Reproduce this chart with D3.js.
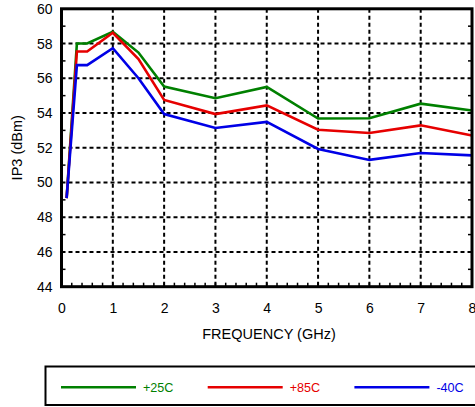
<!DOCTYPE html>
<html>
<head>
<meta charset="utf-8">
<script src="https://cdn.jsdelivr.net/npm/d3@7"></script>
<style>
  body { margin: 0; background: #fff; }
  text { font-family: "Liberation Sans", Arial, sans-serif; }
</style>
</head>
<body>
<div id="chart"></div>
<script>
// frequency points (GHz) and IP3 values (dBm)
const freq = [0.1, 0.3, 0.5, 1, 1.5, 2, 3, 4, 5, 6, 7, 8];
const ip3_25 = [49.1, 58.0, 58.0, 58.68, 57.48, 55.52, 54.85, 55.5, 53.68, 53.7, 54.54, 54.14];
const ip3_85 = [49.1, 57.54, 57.54, 58.62, 57.1, 54.75, 53.94, 54.44, 53.04, 52.85, 53.29, 52.7];
const ip3_m40 = [49.1, 56.76, 56.76, 57.73, 56.0, 53.94, 53.14, 53.49, 51.93, 51.3, 51.7, 51.56];
const seriesNames = ["+25C", "+85C", "-40C"];
const seriesColors = ["#008000", "#e60000", "#0000e6"];
const xTicks = [0, 1, 2, 3, 4, 5, 6, 7, 8];
const yTicks = [44, 46, 48, 50, 52, 54, 56, 58, 60];

const width = 475;
const height = 407;
const margin = { top: 8.8, right: 3, bottom: 120.3, left: 61.5 };

const svg = d3.select('#chart')
  .append('svg')
  .attr('width', width)
  .attr('height', height);

const x = d3.scaleLinear()
  .domain([0, 8])
  .range([margin.left, width - margin.right]);

const y = d3.scaleLinear()
  .domain([44, 60])
  .range([height - margin.bottom, margin.top]);

// dashed grid
svg.append("g")
  .selectAll("line")
  .data(xTicks.slice(1, -1))
  .join("line")
    .attr("x1", d => x(d)).attr("x2", d => x(d))
    .attr("y1", y(60)).attr("y2", y(44))
    .attr("stroke", "#000")
    .attr("stroke-width", 2)
    .attr("stroke-dasharray", "4,3");

svg.append("g")
  .selectAll("line")
  .data(yTicks.slice(1, -1))
  .join("line")
    .attr("x1", x(0)).attr("x2", x(8))
    .attr("y1", d => y(d)).attr("y2", d => y(d))
    .attr("stroke", "#000")
    .attr("stroke-width", 2)
    .attr("stroke-dasharray", "4,3");

// minor ticks, pointing inward
const minorX = d3.range(0.2, 8, 0.2);
const minorY = d3.range(45, 60, 2);

svg.append("g")
  .selectAll("line")
  .data(minorX)
  .join("line")
    .attr("x1", d => x(d)).attr("x2", d => x(d))
    .attr("y1", y(44)).attr("y2", y(44) - 4)
    .attr("stroke", "#000").attr("stroke-width", 1.5);

svg.append("g")
  .selectAll("line")
  .data(minorY)
  .join("line")
    .attr("x1", x(0)).attr("x2", x(0) + 4)
    .attr("y1", d => y(d)).attr("y2", d => y(d))
    .attr("stroke", "#000").attr("stroke-width", 1.5);

svg.append("g")
  .selectAll("line")
  .data(minorY)
  .join("line")
    .attr("x1", x(8)).attr("x2", x(8) - 4)
    .attr("y1", d => y(d)).attr("y2", d => y(d))
    .attr("stroke", "#000").attr("stroke-width", 1.5);

// series lines
const series = [ip3_25, ip3_85, ip3_m40];
const line = d3.line()
  .x((d, i) => x(freq[i]))
  .y(d => y(d));

svg.append("g")
  .selectAll("path")
  .data(series)
  .join("path")
    .attr("d", d => line(d))
    .attr("fill", "none")
    .attr("stroke", (d, i) => seriesColors[i])
    .attr("stroke-width", 2.6)
    .attr("stroke-linejoin", "miter");

// frame
svg.append("rect")
  .attr("x", x(0)).attr("y", y(60))
  .attr("width", x(8) - x(0)).attr("height", y(44) - y(60))
  .attr("fill", "none")
  .attr("stroke", "#000")
  .attr("stroke-width", 3);

// axes (labels only, frame drawn above)
function xAxis(g) {
  g.attr("transform", `translate(0,${y(44)})`)
    .call(d3.axisBottom(x).tickValues(xTicks).tickSize(0).tickPadding(16))
    .attr("font-size", "14px")
    .attr("font-family", "Liberation Sans, Arial, sans-serif")
    .call(g => g.select(".domain").remove());
}

function yAxis(g) {
  g.attr("transform", `translate(${x(0)},0)`)
    .call(d3.axisLeft(y).tickValues(yTicks).tickSize(0).tickPadding(9))
    .attr("font-size", "14px")
    .attr("font-family", "Liberation Sans, Arial, sans-serif")
    .call(g => g.select(".domain").remove());
}

svg.append("g").call(xAxis);
svg.append("g").call(yAxis);

svg.append("text")
  .attr("x", 269).attr("y", 338.5)
  .attr("text-anchor", "middle")
  .attr("font-size", "14.5px")
  .text("FREQUENCY (GHz)");

svg.append("text")
  .attr("transform", `translate(22,${(y(44) + y(60)) / 2}) rotate(-90)`)
  .attr("text-anchor", "middle")
  .attr("font-size", "14.5px")
  .text("IP3 (dBm)");

// legend
const legend = svg.append("g");
legend.append("rect")
  .attr("x", 45.5).attr("y", 366.5)
  .attr("width", 440).attr("height", 38.5)
  .attr("fill", "none")
  .attr("stroke", "#000")
  .attr("stroke-width", 2);

const item = legend.selectAll("g.item")
  .data(seriesNames)
  .join("g")
    .attr("class", "item")
    .attr("transform", (d, i) => `translate(${61 + i * 146.7},387.3)`);

item.append("line")
  .attr("x1", 0).attr("x2", 75)
  .attr("stroke", (d, i) => seriesColors[i])
  .attr("stroke-width", 2.6);

item.append("text")
  .attr("x", 82).attr("y", 4.6)
  .attr("font-size", "12.6px")
  .attr("fill", (d, i) => seriesColors[i])
  .text(d => d);
</script>
</body>
</html>
